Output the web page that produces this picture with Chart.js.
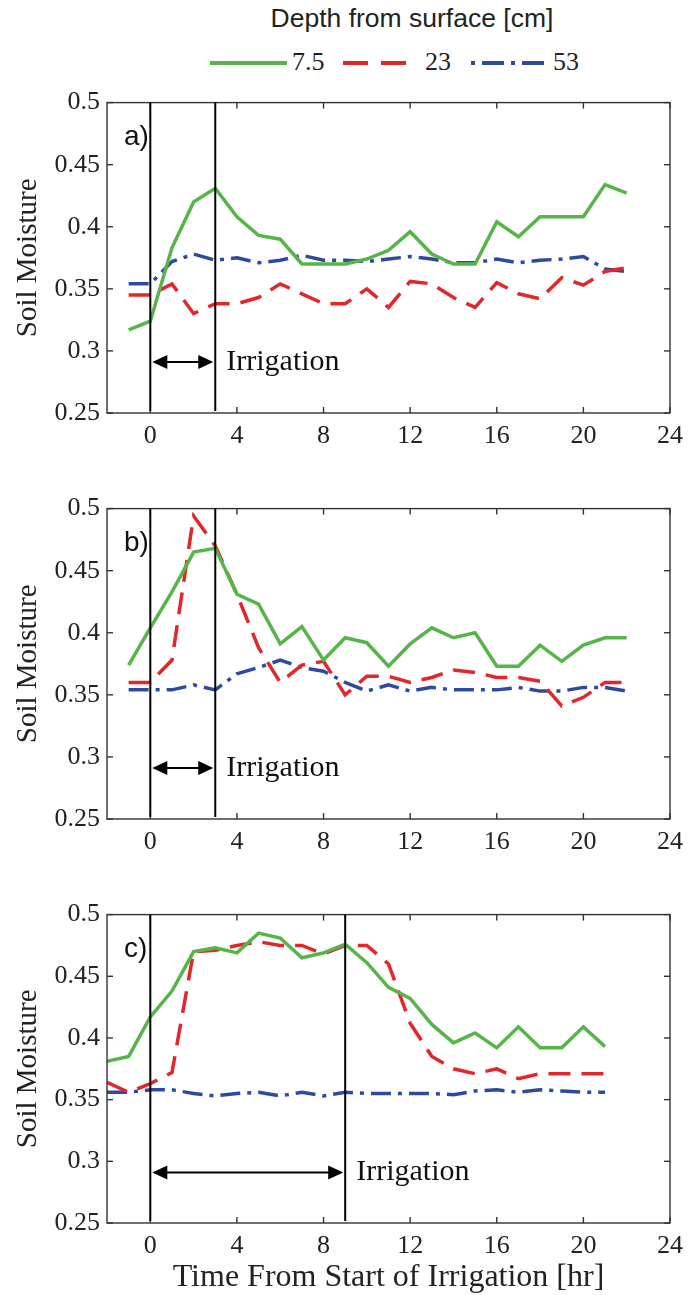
<!DOCTYPE html>
<html>
<head>
<meta charset="utf-8">
<script src="https://cdn.jsdelivr.net/npm/chart.js@4.4.0/dist/chart.umd.min.js"></script>
<style>
  body { margin: 0; background: #fff; width: 691px; height: 1295px; position: relative; overflow: hidden; }
  canvas { position: absolute; left: 0; }
  #legendTitle { position: absolute; left: 0; width: 824px; top: 3px; text-align: center;
    font: 26.5px "Liberation Sans", Arial, sans-serif; color: #222; }
  .legItem { position: absolute; top: 47px; font: 26px "Liberation Serif", serif; color: #222; line-height: 30px; }
  svg { position: absolute; top: 58px; }
</style>
</head>
<body>
<div id="legendTitle">Depth from surface [cm]</div>
<svg style="left:210px" width="77" height="10"><line x1="0" y1="5" x2="77" y2="5" stroke="#56b548" stroke-width="4"/></svg>
<div class="legItem" style="left:292px">7.5</div>
<svg style="left:343px" width="66" height="10"><line x1="0" y1="5" x2="66" y2="5" stroke="#e2262b" stroke-width="4" stroke-dasharray="25 13"/></svg>
<div class="legItem" style="left:425px">23</div>
<svg style="left:471px" width="76" height="10"><line x1="0" y1="5" x2="76" y2="5" stroke="#2d4a9e" stroke-width="4" stroke-dasharray="4 7 22 7"/></svg>
<div class="legItem" style="left:553px">53</div>

<canvas id="chartA" width="691" height="370" style="top:80px"></canvas>
<canvas id="chartB" width="691" height="370" style="top:486px"></canvas>
<canvas id="chartC" width="691" height="403" style="top:892px"></canvas>

<script>
// hours from start of irrigation
const hoursAB = [-1, 0, 1, 2, 3, 4, 5, 6, 7, 8, 9, 10, 11, 12, 13, 14, 15, 16, 17, 18, 19, 20, 21, 22];
const hoursC = [-2, -1, 0, 1, 2, 3, 4, 5, 6, 7, 8, 9, 10, 11, 12, 13, 14, 15, 16, 17, 18, 19, 20, 21];

// panel a)
const moistA75 = [0.317, 0.324, 0.383, 0.420, 0.431, 0.408, 0.393, 0.390, 0.370, 0.370, 0.370, 0.374, 0.381, 0.396, 0.378, 0.370, 0.370, 0.404, 0.392, 0.408, 0.408, 0.408, 0.434, 0.427];
const moistA23 = [0.345, 0.345, 0.354, 0.330, 0.338, 0.338, 0.343, 0.354, 0.346, 0.338, 0.338, 0.350, 0.335, 0.356, 0.354, 0.343, 0.335, 0.355, 0.346, 0.342, 0.359, 0.353, 0.364, 0.367];
const moistA53 = [0.354, 0.354, 0.372, 0.378, 0.373, 0.375, 0.371, 0.373, 0.377, 0.373, 0.373, 0.372, 0.374, 0.376, 0.374, 0.371, 0.371, 0.374, 0.371, 0.373, 0.374, 0.376, 0.366, 0.364];

// panel b)
const moistB75 = [0.374, 0.404, 0.433, 0.465, 0.468, 0.431, 0.423, 0.391, 0.405, 0.378, 0.396, 0.392, 0.373, 0.391, 0.404, 0.396, 0.400, 0.373, 0.373, 0.390, 0.377, 0.390, 0.396, 0.396];
const moistB23 = [0.360, 0.360, 0.378, 0.494, 0.470, 0.431, 0.388, 0.360, 0.374, 0.377, 0.350, 0.365, 0.365, 0.360, 0.364, 0.370, 0.368, 0.364, 0.364, 0.361, 0.341, 0.348, 0.360, 0.360];
const moistB53 = [0.354, 0.354, 0.354, 0.358, 0.354, 0.367, 0.372, 0.378, 0.372, 0.369, 0.360, 0.353, 0.358, 0.353, 0.356, 0.354, 0.354, 0.354, 0.356, 0.353, 0.353, 0.356, 0.356, 0.353];

// panel c)
const moistC75 = [0.381, 0.385, 0.417, 0.438, 0.470, 0.473, 0.469, 0.485, 0.481, 0.465, 0.469, 0.476, 0.461, 0.441, 0.432, 0.411, 0.396, 0.404, 0.392, 0.409, 0.392, 0.392, 0.409, 0.393];
const moistC23 = [0.364, 0.356, 0.363, 0.372, 0.470, 0.471, 0.475, 0.478, 0.475, 0.475, 0.468, 0.475, 0.475, 0.460, 0.412, 0.385, 0.375, 0.371, 0.375, 0.367, 0.371, 0.371, 0.371, 0.371];
const moistC53 = [0.356, 0.356, 0.358, 0.358, 0.355, 0.353, 0.355, 0.356, 0.353, 0.356, 0.353, 0.356, 0.355, 0.355, 0.355, 0.355, 0.354, 0.357, 0.358, 0.356, 0.358, 0.357, 0.356, 0.356];

// irrigation end [hr] per panel, arrow level in soil moisture units
const irrigationEndAB = 3;
const irrigationEndC = 9;
const arrowLevel = 0.291;

const xTicks = [0, 4, 8, 12, 16, 20, 24];
const yTicks = [0.25, 0.3, 0.35, 0.4, 0.45, 0.5];

Chart.defaults.font.family = '"Liberation Serif", "Times New Roman", serif';
Chart.defaults.color = '#222';

function line(ctx, x0, y0, x1, y1) {
    ctx.beginPath();
    ctx.moveTo(x0, y0);
    ctx.lineTo(x1, y1);
    ctx.stroke();
}

// frame, inward ticks, irrigation lines, arrow and labels
const annotatePanel = {
    id: 'annotatePanel',
    afterDatasetsDraw(chart, args, opts) {
        const { ctx, chartArea: a, scales: { x, y } } = chart;
        ctx.save();
        ctx.strokeStyle = '#333';
        ctx.lineWidth = 1.4;
        ctx.strokeRect(a.left, a.top, a.right - a.left, a.bottom - a.top);
        xTicks.forEach(v => {
            const px = x.getPixelForValue(v);
            line(ctx, px, a.bottom, px, a.bottom - 6);
            line(ctx, px, a.top, px, a.top + 6);
        });
        yTicks.forEach(v => {
            const py = y.getPixelForValue(v);
            line(ctx, a.left, py, a.left + 6, py);
            line(ctx, a.right, py, a.right - 6, py);
        });

        ctx.strokeStyle = '#000';
        ctx.fillStyle = '#000';
        ctx.lineWidth = 2;
        const x0 = x.getPixelForValue(0);
        const x1 = x.getPixelForValue(opts.end);
        line(ctx, x0, a.top, x0, a.bottom - 2);
        line(ctx, x1, a.top, x1, a.bottom - 2);

        const ay = y.getPixelForValue(arrowLevel);
        line(ctx, x0 + 10, ay, x1 - 10, ay);
        ctx.beginPath();
        ctx.moveTo(x0 + 2, ay); ctx.lineTo(x0 + 17, ay - 7); ctx.lineTo(x0 + 17, ay + 7); ctx.closePath();
        ctx.fill();
        ctx.beginPath();
        ctx.moveTo(x1 - 2, ay); ctx.lineTo(x1 - 17, ay - 7); ctx.lineTo(x1 - 17, ay + 7); ctx.closePath();
        ctx.fill();

        ctx.fillStyle = '#111';
        ctx.textBaseline = 'middle';
        ctx.textAlign = 'left';
        ctx.font = '30px "Liberation Serif", serif';
        ctx.fillText('Irrigation', x1 + 11, ay);
        ctx.font = '28px "Liberation Sans", Arial, sans-serif';
        ctx.fillText(opts.label, a.left + 17, a.top + 35);
        ctx.restore();
    }
};

function makePanel(id, hours, s75, s23, s53, label, end, lastPanel) {
    const pts = arr => hours.map((h, i) => ({ x: h, y: arr[i] }));
    new Chart(document.getElementById(id), {
        type: 'line',
        data: {
            datasets: [
                { label: '7.5', data: pts(s75), borderColor: '#56b548', borderWidth: 3.5 },
                { label: '23', data: pts(s23), borderColor: '#e2262b', borderWidth: 3.5, borderDash: [22, 11] },
                { label: '53', data: pts(s53), borderColor: '#2d4a9e', borderWidth: 3.5, borderDash: [20, 7, 4, 7] }
            ]
        },
        options: {
            responsive: false,
            animation: false,
            devicePixelRatio: 1,
            layout: { padding: { top: 20, right: 15, left: 0, bottom: 0 } },
            elements: { point: { radius: 0 }, line: { tension: 0 } },
            plugins: {
                legend: { display: false },
                tooltip: { enabled: false },
                annotatePanel: { label: label, end: end }
            },
            scales: {
                x: {
                    type: 'linear',
                    min: -2,
                    max: 24,
                    afterBuildTicks: s => { s.ticks = xTicks.map(v => ({ value: v })); },
                    afterFit: s => { s.height = lastPanel ? 72 : 37; },
                    grid: { display: false, drawTicks: false },
                    border: { display: false },
                    ticks: { font: { size: 26 }, padding: 8, maxRotation: 0, autoSkip: false,
                             callback: v => String(v) },
                    title: {
                        display: lastPanel,
                        text: 'Time From Start of Irrigation [hr]',
                        font: { size: 32, lineHeight: 1 },
                        padding: { top: 0, bottom: 1 }
                    }
                },
                y: {
                    min: 0.25,
                    max: 0.5,
                    afterBuildTicks: s => { s.ticks = yTicks.map(v => ({ value: v })); },
                    afterFit: s => { s.width = 107; },
                    grid: { display: false, drawTicks: false },
                    border: { display: false },
                    ticks: { font: { size: 26 }, padding: 7, autoSkip: false, callback: v => String(v) },
                    title: {
                        display: true,
                        text: 'Soil Moisture',
                        font: { size: 29, lineHeight: 1.2 },
                        padding: { top: 11, bottom: 0 }
                    }
                }
            }
        },
        plugins: [annotatePanel]
    });
}

makePanel('chartA', hoursAB, moistA75, moistA23, moistA53, 'a)', irrigationEndAB, false);
makePanel('chartB', hoursAB, moistB75, moistB23, moistB53, 'b)', irrigationEndAB, false);
makePanel('chartC', hoursC, moistC75, moistC23, moistC53, 'c)', irrigationEndC, true);
</script>
</body>
</html>
